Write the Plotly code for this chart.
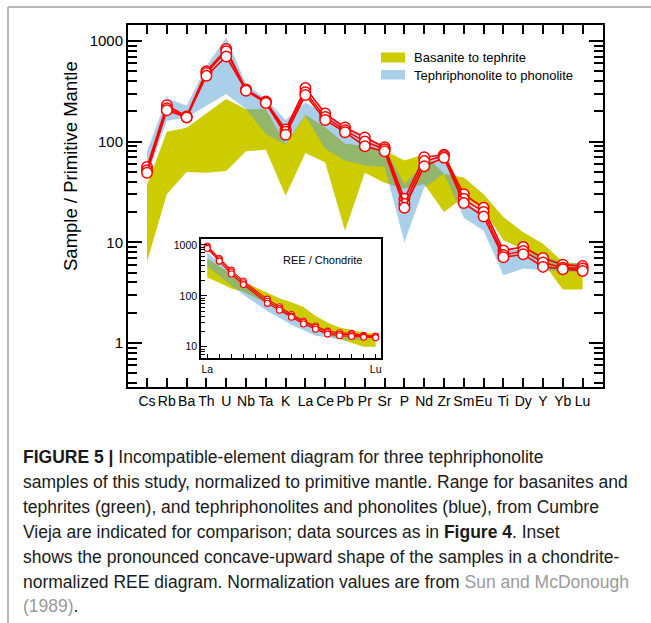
import plotly.graph_objects as go

# ---------------- main diagram data (primitive-mantle normalised) ----------------
elements = ["Cs", "Rb", "Ba", "Th", "U", "Nb", "Ta", "K", "La", "Ce", "Pb", "Pr",
            "Sr", "P", "Nd", "Zr", "Sm", "Eu", "Ti", "Dy", "Y", "Yb", "Lu"]

sample_a = [56, 230, 178, 500, 830, 330, 250, 132, 340, 190, 138, 110,
            88, 27, 70, 74, 30, 22, 8.3, 9.0, 7.0, 6.0, 5.8]
sample_b = [52, 215, 176, 480, 790, 325, 246, 125, 310, 176, 130, 100,
            84, 24, 64, 72, 27, 20, 7.5, 8.2, 6.3, 5.6, 5.5]
sample_c = [49, 205, 174, 450, 700, 320, 242, 117, 290, 164, 124, 90,
            80, 22, 57, 69, 24.5, 18, 7.1, 7.6, 5.7, 5.4, 5.2]

basanite_upper = [37, 125, 137, 190, 265, 210, 210, 95, 185, 139, 95, 91,
                  82, 65, 75, 48, 44, 30, 17.8, 12.6, 9.7, 6.4, 6.1]
basanite_lower = [6.4, 30, 50, 49, 51, 80, 83, 29, 77, 62, 13, 49,
                  39, 34, 38, 20, 28, 21, 10.5, 8.5, 6.3, 3.4, 3.4]

phonolite_upper = [80, 271, 227, 565, 1080, 373, 265, 164, 245, 188, 139, 115,
                   88, 38, 60, 85, 27, 18.5, 8.7, 8.3, 7.4, 6.2, 6.2]
phonolite_lower = [45, 161, 174, 227, 297, 211, 119, 93, 181, 85, 65, 58,
                   56, 10, 35, 48, 17.5, 13, 4.7, 5.5, 5.3, 5.1, 5.1]

main_ytick_vals = [1, 10, 100, 1000]
main_ytick_text = ["1", "10", "100", "1000"]
main_yminor = [0.4, 0.5, 0.6, 0.7, 0.8, 0.9, 2, 3, 4, 5, 6, 7, 8, 9,
               20, 30, 40, 50, 60, 70, 80, 90, 200, 300, 400, 500, 600, 700, 800, 900]

# ---------------- inset data (chondrite normalised REE) ----------------
ree = ["La", "Ce", "Pr", "Nd", "Pm", "Sm", "Eu", "Gd", "Tb", "Dy", "Ho", "Er", "Tm", "Yb", "Lu"]
ree_a = [950, 540, 320, 195, None, 86, 61, 43, 32, 25.5, 20.3, 18.8, 18.3, 16.7, 16.2]
ree_b = [900, 510, 295, 180, None, 78, 56, 40, 30, 24, 19, 17.6, 17.1, 16.0, 15.6]
ree_c = [850, 480, 268, 166, None, 71, 52, 38, 28, 22, 17.7, 16.4, 15.9, 15.3, 15.0]

ree_bas_upper = [540, 380, 260, 190, None, 115, 90, 75, 60, 40, 30, 24, 21, 19, 18]
ree_bas_lower = [230, 180, 140, 120, None, 70, 55, 42, 30, 22, 17, 14, 12, 10, 10]
ree_pho_upper = [700, 450, 290, 180, None, 85, 62, 45, 34, 26, 21, 19, 18, 17, 17]
ree_pho_lower = [380, 250, 160, 105, None, 50, 37, 27, 21, 16.5, 15, 14, 13.5, 14, 15]

inset_ytick_vals = [10, 100, 1000]
inset_ytick_text = ["10", "100", "1000"]
inset_yminor = [7, 8, 9, 20, 30, 40, 50, 60, 70, 80, 90, 200, 300, 400, 500, 600, 700, 800, 900]

legend_labels = ["Basanite to tephrite", "Tephriphonolite to phonolite"]

caption_lines = [
    "<b>FIGURE 5 |</b> Incompatible-element diagram for three tephriphonolite",
    "samples of this study, normalized to primitive mantle. Range for basanites and",
    "tephrites (green), and tephriphonolites and phonolites (blue), from Cumbre",
    "Vieja are indicated for comparison; data sources as in <b>Figure 4</b>. Inset",
    "shows the pronounced concave-upward shape of the samples in a chondrite-",
    "normalized REE diagram. Normalization values are from <span style='color:#9a9a9a'>Sun and McDonough</span>",
    "<span style='color:#9a9a9a'>(1989)</span>.",
]

# ---------------- styling ----------------
W, H = 651, 623
GREEN = "rgb(204,204,0)"
BLUE = "rgba(85,160,215,0.5)"
RED = "rgb(255,0,0)"
FONT = "Liberation Sans, Arial, sans-serif"


def px_x(v):
    return v / W


def px_y(v):
    return (H - v) / H


def band(xs, upper, lower):
    pts = [(x, u, l) for x, u, l in zip(xs, upper, lower) if u is not None]
    bx = [p[0] for p in pts] + [p[0] for p in reversed(pts)]
    by = [p[1] for p in pts] + [p[2] for p in reversed(pts)]
    return bx, by


fig = go.Figure()

xi = list(range(len(elements)))
for up, lo, col in [(basanite_upper, basanite_lower, GREEN),
                    (phonolite_upper, phonolite_lower, BLUE)]:
    bx, by = band(xi, up, lo)
    fig.add_trace(go.Scatter(x=bx, y=by, fill="toself", fillcolor=col, mode="lines",
                             line=dict(width=0), hoverinfo="skip", showlegend=False,
                             xaxis="x", yaxis="y"))

for s in [sample_a, sample_b, sample_c]:
    fig.add_trace(go.Scatter(x=xi, y=s, mode="lines+markers",
                             line=dict(color=RED, width=1.6),
                             marker=dict(symbol="circle", size=10.5, color="white",
                                         line=dict(color=RED, width=1.5)),
                             showlegend=False, xaxis="x", yaxis="y"))

ri = list(range(len(ree)))
for up, lo, col in [(ree_bas_upper, ree_bas_lower, GREEN),
                    (ree_pho_upper, ree_pho_lower, BLUE)]:
    bx, by = band(ri, up, lo)
    fig.add_trace(go.Scatter(x=bx, y=by, fill="toself", fillcolor=col, mode="lines",
                             line=dict(width=0), hoverinfo="skip", showlegend=False,
                             xaxis="x2", yaxis="y2"))

for s in [ree_a, ree_b, ree_c]:
    fig.add_trace(go.Scatter(x=ri, y=s, mode="lines+markers", connectgaps=True,
                             line=dict(color=RED, width=1.1),
                             marker=dict(symbol="circle", size=6, color="white",
                                         line=dict(color=RED, width=1.1)),
                             showlegend=False, xaxis="x2", yaxis="y2"))

axis_common = dict(showgrid=False, zeroline=False, showline=True, linecolor="black",
                   tickcolor="black")

fig.update_layout(
    width=W, height=H,
    margin=dict(l=0, r=0, t=0, b=0),
    paper_bgcolor="white", plot_bgcolor="white",
    font=dict(family=FONT, color="black"),
    xaxis=dict(domain=[px_x(128), px_x(603)], range=[-0.96, 23.03],
               tickmode="array", tickvals=xi, ticktext=elements, tickangle=0,
               ticks="inside", ticklen=9, tickwidth=1.5, linewidth=2, mirror="ticks",
               tickfont=dict(size=14, family=FONT, color="black"), anchor="y",
               **axis_common),
    yaxis=dict(domain=[px_y(387), px_y(24.5)], type="log", range=[-0.437, 3.163],
               tickmode="array", tickvals=main_ytick_vals, ticktext=main_ytick_text,
               ticks="inside", ticklen=14, tickwidth=1.5, linewidth=2, mirror="ticks",
               minor=dict(tickmode="array", tickvals=main_yminor, ticks="inside",
                          ticklen=9, tickwidth=1.5, tickcolor="black", showgrid=False),
               tickfont=dict(size=15, family=FONT, color="black"), anchor="x",
               **axis_common),
    xaxis2=dict(domain=[px_x(201), px_x(380.7)], range=[-0.52, 14.42],
                tickmode="array", tickvals=ri, tickangle=0,
                ticktext=["La"] + [""] * (len(ree) - 2) + ["Lu"],
                ticks="inside", ticklen=5, tickwidth=1, linewidth=1.5, mirror=True,
                tickfont=dict(size=10.5, family=FONT, color="black"), anchor="y2",
                **axis_common),
    yaxis2=dict(domain=[px_y(358.3), px_y(239.3)], type="log", range=[0.773, 3.11],
                tickmode="array", tickvals=inset_ytick_vals, ticktext=inset_ytick_text,
                ticks="inside", ticklen=6, tickwidth=1, linewidth=1.5, mirror=True,
                minor=dict(tickmode="array", tickvals=inset_yminor, ticks="inside",
                           ticklen=4, tickwidth=1, tickcolor="black", showgrid=False),
                tickfont=dict(size=10.5, family=FONT, color="black"), anchor="x2",
                **axis_common),
)

shapes = [
    # page frame lines
    dict(type="line", xref="paper", yref="paper", x0=px_x(8), x1=1.0,
         y0=px_y(7), y1=px_y(7), line=dict(color="#a0a0a0", width=1.5)),
    dict(type="line", xref="paper", yref="paper", x0=px_x(8), x1=px_x(8),
         y0=0, y1=px_y(7), line=dict(color="#a0a0a0", width=1.5)),
    # legend swatches
    dict(type="rect", xref="paper", yref="paper", x0=px_x(381), x1=px_x(405),
         y0=px_y(62.5), y1=px_y(52.5), fillcolor=GREEN, line=dict(width=0)),
    dict(type="rect", xref="paper", yref="paper", x0=px_x(381), x1=px_x(405),
         y0=px_y(79.5), y1=px_y(70), fillcolor="rgb(170,207,235)", line=dict(width=0)),
]
fig.update_layout(shapes=shapes)

annotations = [
    dict(text=legend_labels[0], xref="paper", yref="paper", x=px_x(412), y=px_y(57.5),
         xanchor="left", yanchor="middle", showarrow=False,
         font=dict(size=13, family=FONT, color="black")),
    dict(text=legend_labels[1], xref="paper", yref="paper", x=px_x(412), y=px_y(75),
         xanchor="left", yanchor="middle", showarrow=False,
         font=dict(size=13, family=FONT, color="black")),
    dict(text="Sample / Primitive Mantle", xref="paper", yref="paper",
         x=px_x(70), y=px_y(166), textangle=-90, xanchor="center", yanchor="middle",
         showarrow=False, font=dict(size=18.5, family=FONT, color="black")),
    dict(text="REE / Chondrite", xref="paper", yref="paper", x=px_x(322), y=px_y(260),
         xanchor="center", yanchor="middle", showarrow=False,
         font=dict(size=11, family=FONT, color="black")),
]
for i, line in enumerate(caption_lines):
    annotations.append(dict(text=line, xref="paper", yref="paper", x=px_x(21),
                            y=px_y(457 + 24.9 * i), xanchor="left", yanchor="middle",
                            showarrow=False,
                            font=dict(size=17.5, family=FONT, color="#1a1a1a")))
fig.update_layout(annotations=annotations)

fig.write_html("out.html", config={"displayModeBar": False},
               post_script="document.body.style.margin='0px';document.body.style.overflow='hidden';")
